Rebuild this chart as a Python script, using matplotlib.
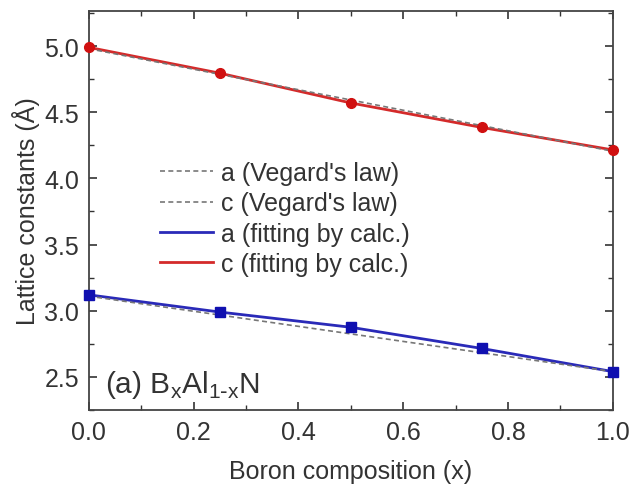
import numpy as np
import matplotlib.pyplot as plt
from matplotlib.ticker import MultipleLocator

plt.rcParams['font.family'] = ['Liberation Sans', 'DejaVu Sans']

# boron fraction x in BxAl1-xN
x = [0.0, 0.25, 0.5, 0.75, 1.0]
# calculated lattice constants (Angstrom)
a_calc = [3.12, 2.99, 2.875, 2.715, 2.54]
c_calc = [4.99, 4.795, 4.57, 4.385, 4.215]
# Vegard's law end points (AlN, BN)
x_end = [0.0, 1.0]
a_vegard = [3.11, 2.54]
c_vegard = [4.98, 4.205]

fig = plt.figure(figsize=(6.39, 4.85), dpi=100)
ax = fig.add_axes([0.139, 0.1526, 0.82, 0.8227])

ax.plot(x_end, a_vegard, ls=(0, (3, 2)), color='#777777', lw=1.2, label="a (Vegard's law)", zorder=3)
ax.plot(x_end, c_vegard, ls=(0, (3, 2)), color='#777777', lw=1.2, label="c (Vegard's law)", zorder=3)
ax.plot(x, a_calc, '-', color='#2a2ab8', lw=2, label='a (fitting by calc.)', zorder=2)
ax.plot(x, c_calc, '-', color='#d42a2a', lw=2, label='c (fitting by calc.)', zorder=2)
ax.plot(x, a_calc, 's', color='#1010b0', ms=7, zorder=4, clip_on=False)
ax.plot(x, c_calc, 'o', color='#d01010', ms=7, zorder=4, clip_on=False)

ax.set_xlim(0, 1.0)
ax.set_ylim(2.25, 5.265)
ax.xaxis.set_major_locator(MultipleLocator(0.2))
ax.xaxis.set_minor_locator(MultipleLocator(0.1))
ax.yaxis.set_major_locator(MultipleLocator(0.5))
ax.yaxis.set_minor_locator(MultipleLocator(0.25))
ax.xaxis.set_major_formatter(lambda v, p: f'{v:.1f}')
ax.yaxis.set_major_formatter(lambda v, p: f'{v:.1f}')
ax.tick_params(which='both', direction='in', top=True, right=True, labelsize=18,
               color='#333333', labelcolor='#333333')
ax.tick_params(which='major', length=6, width=1.2, pad=7)
ax.tick_params(which='minor', length=3.5, width=1)
for s in ax.spines.values():
    s.set_color('#444444')
    s.set_linewidth(1.3)

ax.set_xlabel('Boron composition (x)', fontsize=18, color='#333333', labelpad=11)
ax.set_ylabel('Lattice constants (Å)', fontsize=18, color='#333333', labelpad=3)

ax.legend(loc='upper left', bbox_to_anchor=(0.112, 0.655), frameon=False, fontsize=18,
          handlelength=2.1, handletextpad=0.35, labelspacing=0.25, borderpad=0,
          labelcolor='#333333')

ax.text(0.03, 0.045, r'(a) B$_{\mathregular{x}}$Al$_{\mathregular{1\text{-}x}}$N', transform=ax.transAxes,
        fontsize=21.5, color='#333333')

fig.savefig('out.png', dpi=100)
